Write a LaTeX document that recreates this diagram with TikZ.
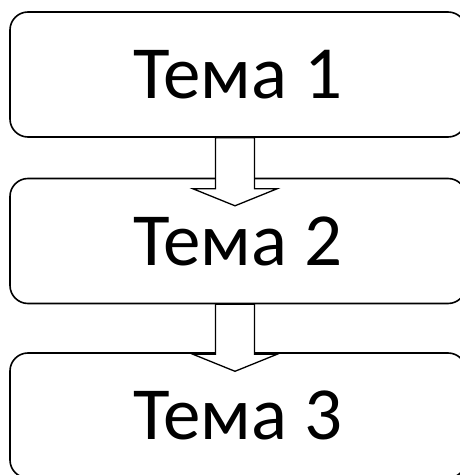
\documentclass[tikz,border=0pt]{standalone}
\usepackage{fontspec}
\setmainfont{Carlito}
\usetikzlibrary{calc}
\tikzset{
  topicbox/.style={draw, line width=1.6pt, rounded corners=18pt, fill=white,
    minimum width=456pt, minimum height=125pt, inner sep=0pt,
    font=\fontsize{75}{80}\selectfont},
  blockarrow/.style={draw, line width=1.3pt, fill=white, line join=miter}
}
\begin{document}
\begin{tikzpicture}[x=1pt,y=1pt]
\useasboundingbox (0,0) rectangle (460,475);
\clip (0,0) rectangle (460,475);
\node[topicbox] (b1) at (238,400.5) {Тема 1};
\node[topicbox] (b2) at (238,234) {Тема 2};
\node[topicbox] (b3) at (238,59.5) {Тема 3};
% arrows
\coordinate (a1) at ($(b1.south)+(-3,0)$);
\coordinate (a2) at ($(b2.south)+(-3,0)$);
\draw[blockarrow] ($(a1)+(-19.5,0)$) -- ($(a1)+(-19.5,-51)$) -- ($(a1)+(-42,-51)$)
  -- ($(a1)+(0,-68)$) -- ($(a1)+(42,-51)$) -- ($(a1)+(19.5,-51)$)
  -- ($(a1)+(19.5,0)$) -- cycle;
\draw[blockarrow] ($(a2)+(-19.5,0)$) -- ($(a2)+(-19.5,-50)$) -- ($(a2)+(-42,-50)$)
  -- ($(a2)+(0,-67)$) -- ($(a2)+(42,-50)$) -- ($(a2)+(19.5,-50)$)
  -- ($(a2)+(19.5,0)$) -- cycle;
\end{tikzpicture}
\end{document}
